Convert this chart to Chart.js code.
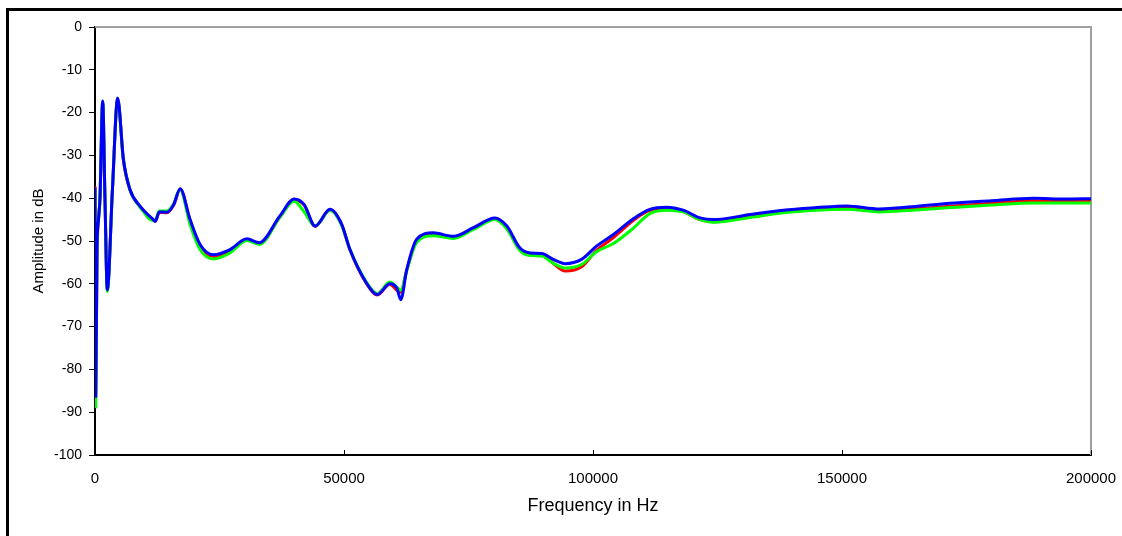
<!DOCTYPE html>
<html lang="en">
<head>
  <meta charset="UTF-8">
  <title>Amplitude vs Frequency</title>
  <style>
    body { margin: 0; background: #fff; }
    #frame { position: absolute; left: 6px; top: 8px; width: 1300px; height: 700px;
             border-top: 3px solid #000; border-left: 3px solid #000; }
    #myChart { position: absolute; left: 0; top: 0; }
  </style>
</head>
<body>
  <div id="frame"></div>
  <canvas id="myChart" width="1122" height="536"></canvas>

  <script src="https://cdn.jsdelivr.net/npm/chart.js"></script>
  <script>
    // frequency points (Hz), shared by the three traces
    const freq = [0, 150, 400, 700, 1000, 1546, 2000, 2470, 3500, 4550,
      5700, 7000, 9000, 11700, 12100, 12900, 14400, 15800, 17100, 19100,
      21100, 23800, 27100, 30500, 33000, 37100, 40000, 42000, 44200, 47200,
      49500, 51200, 54500, 56700, 59200, 60600, 61400, 62600, 64600, 67900,
      72000, 76000, 80300, 82700, 85300, 87400, 89700, 92000, 94400, 97700,
      100700, 104100, 108100, 111400, 114800, 118100, 121500, 124200, 131600, 138200,
      144900, 150900, 157600, 164000, 171700, 180000, 188400, 195000, 200000];

    // amplitude in dB
    const red = [-37.2, -86, -54, -45, -40, -17.5, -40, -61.5, -38, -16.8,
      -31, -38, -41.9, -45.1, -45.4, -43.3, -43.4, -41.6, -37.9, -45.3,
      -51.2, -53.6, -52.4, -49.7, -50.6, -44.4, -40.4, -41.6, -46.6, -42.7,
      -46.1, -52.1, -59.9, -62.6, -60.1, -61.5, -62.0, -56.8, -49.9, -48.5,
      -49.2, -47.1, -44.8, -46.8, -52.0, -53.1, -53.3, -55.2, -57.0, -56.0,
      -52.2, -49.2, -45.2, -42.9, -42.6, -43.1, -45.0, -45.5, -44.3, -43.2,
      -42.6, -42.2, -42.8, -42.5, -41.9, -41.2, -40.6, -40.8, -40.7];

    const green = [-38, -88.7, -52, -45, -40, -17.5, -40, -61.8, -38, -17,
      -31, -38, -42, -45.2, -45.2, -43, -43, -41.3, -38, -46.2,
      -52, -54.2, -52.8, -49.9, -50.8, -44.5, -40.7, -43.2, -46.5, -42.8,
      -46.2, -52, -59.6, -62.3, -59.6, -60.8, -61.5, -56.9, -50.3, -48.8,
      -49.4, -47.3, -45.0, -47.2, -52.2, -53.4, -53.5, -55.2, -56.3, -55.5,
      -52.5, -50.6, -47.0, -43.6, -42.8, -43.2, -45.0, -45.6, -44.5, -43.4,
      -42.8, -42.6, -43.2, -42.8, -42.2, -41.6, -41.1, -41.1, -41.1];

    const blue = [-37.5, -86.3, -52, -45, -40, -17.3, -40, -61.4, -38, -16.6,
      -30.9, -37.9, -41.8, -45.0, -45.4, -43.2, -43.3, -41.5, -37.8, -45.0,
      -50.8, -53.2, -52.0, -49.5, -50.4, -44.2, -40.2, -41.5, -46.5, -42.6,
      -46, -52.0, -59.8, -62.5, -60.0, -61.0, -63.7, -56.7, -49.6, -48.1,
      -48.9, -46.9, -44.6, -46.5, -51.6, -52.8, -52.9, -54.3, -55.3, -54.3,
      -51.2, -48.5, -44.8, -42.6, -42.1, -42.8, -44.6, -45.0, -43.8, -42.8,
      -42.2, -41.8, -42.5, -42.0, -41.2, -40.6, -40.0, -40.2, -40.1];

    const xTicks = [0, 50000, 100000, 150000, 200000];

    const font = 'Arial, "Liberation Sans", sans-serif';

    function series(values) {
      return freq.map((f, i) => ({ x: f, y: values[i] }));
    }

    // gray top/right edge of the plot and small inward x ticks
    const plotFrame = {
      id: 'plotFrame',
      beforeDatasetsDraw(chart) {
        const { ctx, chartArea: a, scales: { x } } = chart;
        ctx.save();
        ctx.strokeStyle = '#a0a0a0';
        ctx.lineWidth = 2;
        ctx.beginPath();
        ctx.moveTo(a.left, a.top);
        ctx.lineTo(a.right, a.top);
        ctx.lineTo(a.right, a.bottom);
        ctx.stroke();
        ctx.strokeStyle = '#000';
        ctx.lineWidth = 1;
        xTicks.forEach(v => {
          const px = Math.round(x.getPixelForValue(v)) + 0.5;
          ctx.beginPath();
          ctx.moveTo(px, a.bottom);
          ctx.lineTo(px, a.bottom - 5);
          ctx.stroke();
        });
        ctx.restore();
      }
    };

    const ctx = document.getElementById('myChart');

    new Chart(ctx, {
      type: 'line',
      data: {
        datasets: [
          { label: 'red', data: series(red), borderColor: '#ff0000', order: 3 },
          { label: 'green', data: series(green), borderColor: '#00ff00', order: 2 },
          { label: 'blue', data: series(blue), borderColor: '#0000ff', order: 1 }
        ]
      },
      options: {
        responsive: false,
        animation: false,
        layout: { padding: { left: 30, right: 31, top: 27, bottom: 19 } },
        elements: {
          point: { radius: 0 },
          line: { borderWidth: 3, cubicInterpolationMode: 'monotone' }
        },
        plugins: {
          legend: { display: false },
          tooltip: { enabled: false }
        },
        scales: {
          x: {
            type: 'linear',
            min: 0,
            max: 200000,
            afterFit: s => { s.height = 62; s.paddingLeft = 0; s.paddingRight = 0; },
            afterBuildTicks: s => { s.ticks = xTicks.map(v => ({ value: v })); },
            grid: { display: true, drawOnChartArea: false, drawTicks: false },
            border: { color: '#000', width: 2 },
            ticks: {
              color: '#000',
              padding: 15,
              maxRotation: 0,
              font: { family: font, size: 15 },
              callback: v => String(v)
            },
            title: {
              display: true,
              text: 'Frequency in Hz',
              color: '#000',
              padding: 0,
              font: { family: font, size: 18 }
            }
          },
          y: {
            min: -100,
            max: 0,
            afterFit: s => { s.width = 65; s.paddingTop = 0; s.paddingBottom = 0; },
            grid: { drawOnChartArea: false, drawTicks: true, tickLength: 6, color: '#000' },
            border: { color: '#000', width: 2 },
            ticks: {
              stepSize: 10,
              color: '#000',
              padding: 7,
              font: { family: font, size: 14 }
            },
            title: {
              display: true,
              text: 'Amplitude in dB',
              color: '#000',
              padding: 0,
              font: { family: font, size: 15 }
            }
          }
        }
      },
      plugins: [plotFrame]
    });
  </script>
</body>
</html>
